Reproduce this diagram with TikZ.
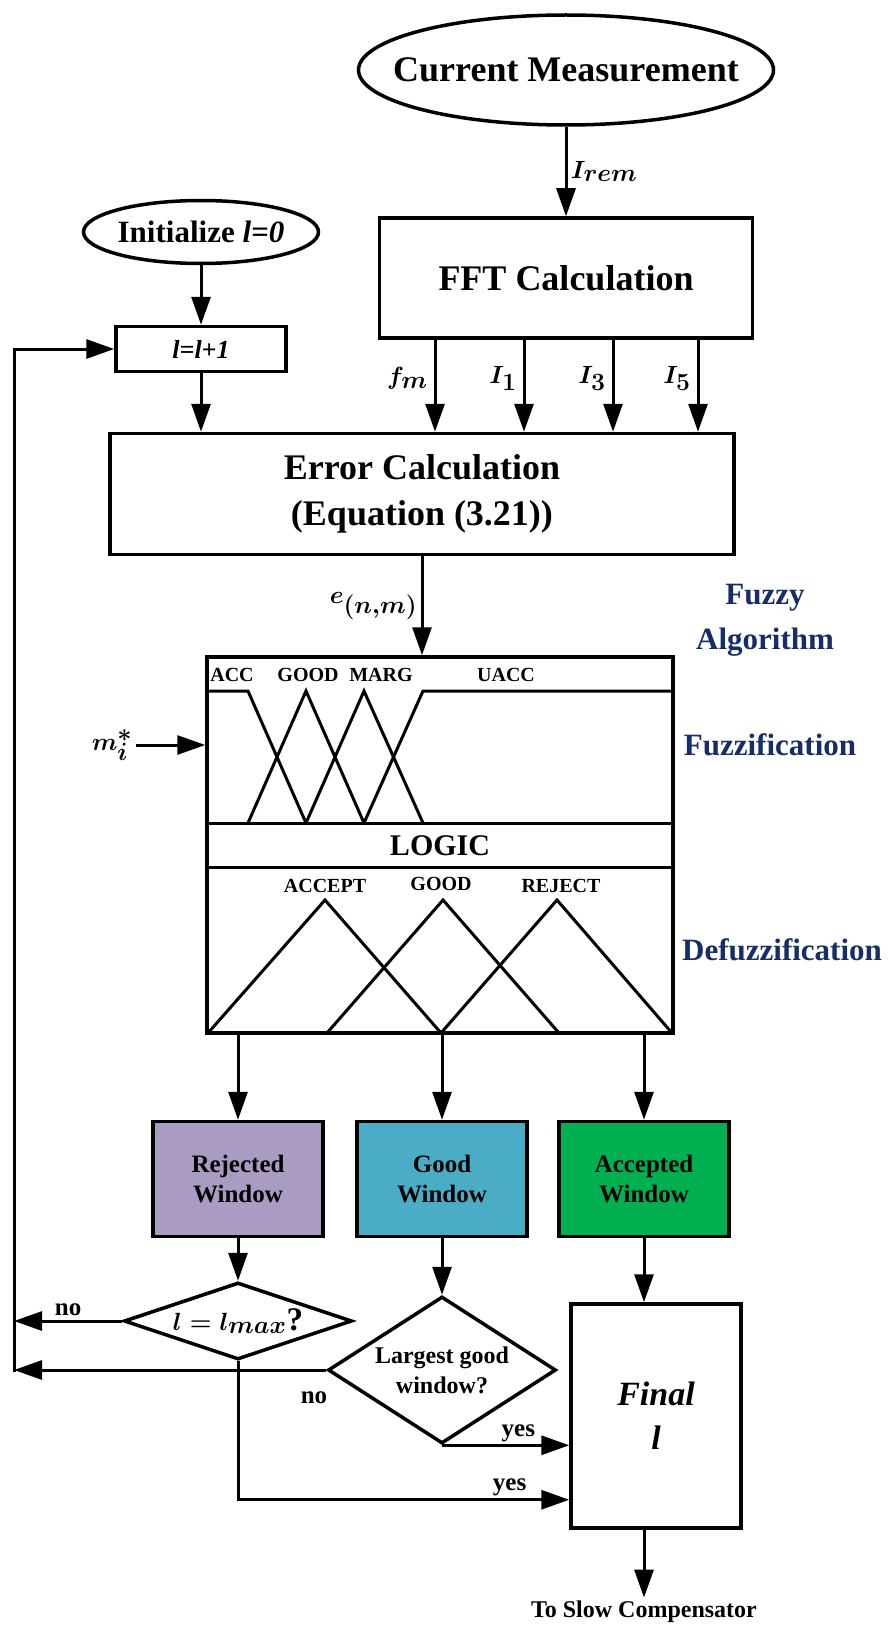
\documentclass[tikz,border=0pt]{standalone}
\usepackage{fontspec}
\setmainfont{Liberation Serif}
\usetikzlibrary{shapes.geometric,arrows.meta,positioning}

\definecolor{rejcol}{RGB}{169,155,193}
\definecolor{goodcol}{RGB}{75,172,198}
\definecolor{acccol}{RGB}{0,176,80}
\definecolor{navy}{RGB}{23,45,105}

\tikzset{
  block/.style={draw, rectangle, line width=3.5pt, inner sep=0pt, align=center},
  term/.style={draw, ellipse, line width=3.5pt, inner xsep=-40pt, inner ysep=0pt},
  decision/.style={draw, diamond, line width=3.5pt, aspect=1, inner xsep=-50pt, inner ysep=0pt, align=center},
  win/.style={block, minimum width=170pt, minimum height=115pt, font=\fontsize{25}{30}\selectfont\bfseries},
  arr/.style={line width=3pt, -{Triangle[length=28pt,width=19pt]}},
  mf/.style={line width=3pt, line join=miter},
  lbl/.style={font=\fontsize{25}{30}\selectfont\bfseries},
  mflbl/.style={font=\fontsize{20}{24}\selectfont\bfseries},
  mlbl/.style={font=\fontsize{34}{38}\selectfont\boldmath},
  side/.style={text=navy, font=\fontsize{31}{45}\selectfont\bfseries, align=center},
}

\begin{document}
\begin{tikzpicture}[x=1pt,y=-1pt,on grid]
  \useasboundingbox (0,0) rectangle (888,1648);

  % measurement and FFT
  \node[term, minimum width=415pt, minimum height=110pt, font=\fontsize{36}{40}\selectfont\bfseries] (meas) at (566,70) {Current Measurement};
  \node[block, minimum width=373pt, minimum height=120pt, font=\fontsize{36}{40}\selectfont\bfseries] (fft) at (566,278) {FFT Calculation};
  \draw[arr] (meas) -- (fft) node[midway, right, mlbl] {$I_{rem}$};

  % window counter
  \node[term, minimum width=235pt, minimum height=63pt, font=\fontsize{31}{34}\selectfont\bfseries] (init) at (201,232) {Initialize \textit{l=0}};
  \node[block, minimum width=170pt, minimum height=45pt, font=\fontsize{26}{30}\selectfont\bfseries\itshape] (inc) at (201,349) {l=l+1};
  \draw[arr] (init) -- (inc);

  % error
  \node[block, minimum width=624pt, minimum height=121pt, font=\fontsize{36}{46}\selectfont\bfseries] (err) at (422,494) {Error Calculation\\(Equation (3.21))};
  \draw[arr] (inc) -- (inc |- err.north);
  \foreach \xx/\lab in {435/f_m, 524/I_1, 613/I_3, 698/I_5}
    \draw[arr] (fft.south -| \xx,0) -- (err.north -| \xx,0) node[pos=0.42, anchor=east, inner sep=6pt, mlbl] {$\lab$};

  % fuzzy block
  \node[block, minimum width=466pt, minimum height=376pt] (fz) at (440,845) {};
  \draw[arr] (err.south) -- (err.south |- fz.north) node[midway, left, mlbl] {$e_{(n,m)}$};
  \node[mlbl] (mi) at (112,745) {$m_i^*$};
  \draw[arr] (mi) -- (mi -| fz.west);

  \draw[line width=3pt] (207,823) -- (673,823);
  \draw[line width=3pt] (207,867) -- (673,867);
  % fuzzification
  \draw[mf] (207,691) -- (248,691) -- (306,823);
  \draw[mf] (248,823) -- (306,691) -- (364,823);
  \draw[mf] (306,823) -- (364,691) -- (423,823);
  \draw[mf] (364,823) -- (423,691) -- (673,691);
  \node[mflbl] (lacc) at (232,675) {ACC};
  \node[mflbl] (lgood) at (308,675) {GOOD};
  \node[mflbl] (lmarg) at (381,675) {MARG};
  \node[mflbl] (luacc) at (506,675) {UACC};
  \node[font=\fontsize{30}{34}\selectfont\bfseries] (logic) at (440,846) {LOGIC};
  % defuzzification
  \draw[mf] (208,1033) -- (325,900) -- (441,1033);
  \draw[mf] (327,1033) -- (443,900) -- (559,1033);
  \draw[mf] (441,1033) -- (557,900) -- (672,1033);
  \node[mflbl] (laccept) at (325,886) {ACCEPT};
  \node[mflbl] (lgood2) at (441,884) {GOOD};
  \node[mflbl] (lreject) at (561,886) {REJECT};

  \node[side] (fzalg) at (765,620) {Fuzzy\\Algorithm};
  \node[side] (fzlab) at (770,745) {Fuzzification};
  \node[side] (dfzlab) at (782,950) {Defuzzification};

  % windows
  \node[win, fill=rejcol] (rej) at (238,1179) {Rejected\\Window};
  \node[win, fill=goodcol] (good) [right=204pt of rej] {Good\\Window};
  \node[win, fill=acccol] (acc) [right=202pt of good] {Accepted\\Window};
  \foreach \w in {rej,good,acc}
    \draw[arr] (fz.south -| \w) -- (\w);

  % decisions
  \node[decision, minimum width=228pt, minimum height=77pt, font=\fontsize{33}{36}\selectfont\bfseries\boldmath] (d1) [below=142pt of rej] {$l = l_{max}$?};
  \node[decision, minimum width=228pt, minimum height=147pt, font=\fontsize{24}{30}\selectfont\bfseries] (d2) [below=191pt of good] {Largest good\\window?};
  \draw[arr] (rej) -- (d1);
  \draw[arr] (good) -- (d2);

  \node[block, minimum width=170pt, minimum height=224pt, font=\fontsize{34}{44}\selectfont\bfseries\itshape] (fin) at (656,1416) {Final\\l};
  \draw[arr] (acc) -- (acc |- fin.north);

  % loop back
  \coordinate (loopbot) at (14,1372);
  \draw[arr] (loopbot) |- (inc.west);
  \draw[arr] (d1.west) -- (d1.west -| loopbot) node[midway, above, lbl] {no};
  \draw[arr] (d2.west) -- (d2.west -| loopbot);
  \node[lbl] (no2) at (314,1398) {no};

  \draw[arr] (d2.south) -- (d2.south -| fin.west) node[pos=0.6, above, inner sep=2pt, lbl] {yes};
  \draw[arr] (d1.south) |- ([yshift=30pt]fin.south west) node[pos=0.91, above, inner sep=2pt, lbl] {yes};

  \node[font=\fontsize{24}{28}\selectfont\bfseries] (slow) at (644,1612) {To Slow Compensator};
  \draw[arr] (acc |- fin.south) -- (slow);
\end{tikzpicture}
\end{document}
